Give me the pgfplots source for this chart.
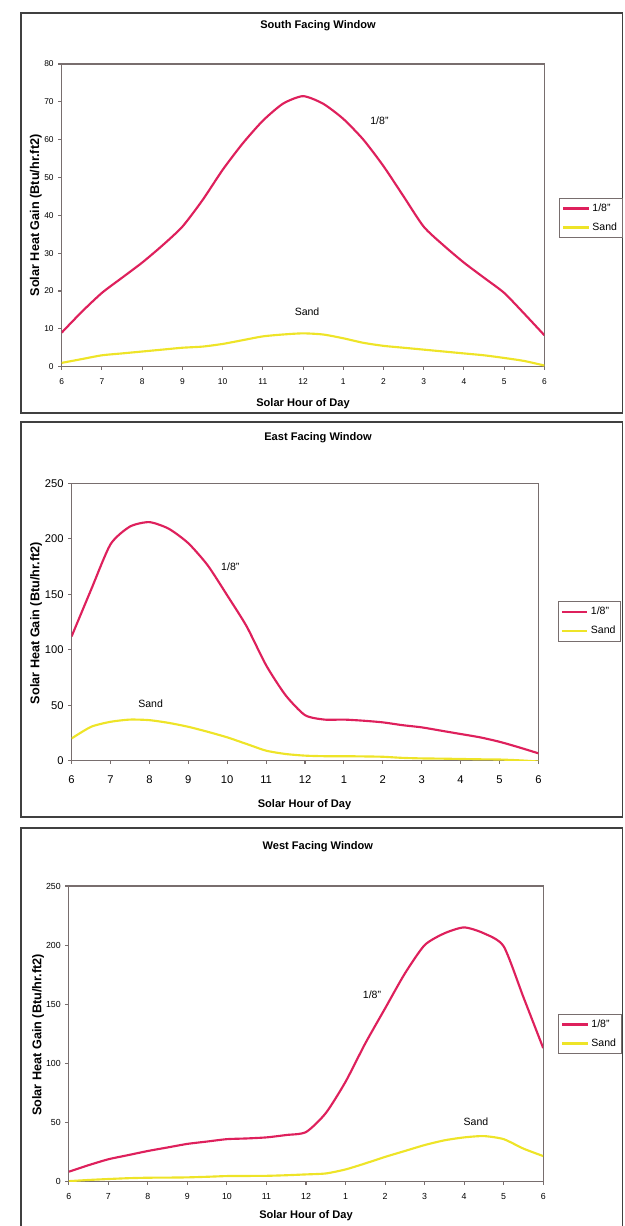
\documentclass[border=0pt]{standalone}
\usepackage{pgfplots}
\pgfplotsset{compat=1.18}
\usepackage{fontspec}
\setmainfont{Liberation Sans}

\definecolor{redline}{RGB}{222,32,92}
\definecolor{yelline}{RGB}{238,228,40}
\definecolor{axgray}{RGB}{120,110,110}

% data: x = hours after 6 am (0..12)
\pgfplotstableread{
x   glass  sand
0    9.0   1.0
0.5 14.5   2.0
1   19.5   3.0
1.5 23.5   3.5
2   27.5   4.0
2.5 32.0   4.5
3   37.0   5.0
3.5 44.0   5.3
4   52.0   6.0
4.5 59.0   7.0
5   65.0   8.0
5.5 69.5   8.5
6   71.5   8.8
6.5 69.5   8.5
7   65.5   7.5
7.5 60.0   6.3
8   53.0   5.5
8.5 45.0   5.0
9   37.0   4.5
9.5 32.0   4.0
10  27.5   3.5
10.5 23.5  3.0
11  19.5   2.3
11.5 14.0  1.5
12   8.3   0.3
}\southdata

\pgfplotstableread{
x   glass  sand
0   112    20
0.5 154    30.5
1   195    35
1.5 211    37
2   215    36.5
2.5 209    34
3   196    30.5
3.5 176    26
4   149    21
4.5 121    15
5    86     9
5.5  59     6
6    41     4.5
6.5  37     4
7    37     4
7.5  36     3.8
8    34.5   3.5
8.5  32     2.5
9    30     2
9.5  27     1.8
10   24     1.5
10.5 21     1.2
11   17     1
11.5 12     0.3
12    6.6  -0.8
}\eastdata

\pgfplotstableread{
x   glass  sand
0     8.5   0.5
0.5  14     1.5
1    19     2.3
1.5  22.5   3.0
2    26     3.4
2.5  29     3.5
3    32     3.7
3.5  34     4.2
4    36     4.8
4.5  36.6   4.9
5    37.5   5.0
5.5  39.5   5.5
6    42     6.2
6.5  58     7.0
7    84.5  10.4
7.5 117    15.5
8   146.5  21
8.5 176    26
9   200    31
9.5 210    35
10  215    37.5
10.5 210   38.6
11  199    36
11.5 156   28
12  113    21.7
}\westdata

\pgfplotsset{
  panel/.style={
    scale only axis,
    anchor=north west,
    xmin=0, xmax=12,
    xtick={0,1,...,12},
    xticklabels={6,7,8,9,10,11,12,1,2,3,4,5,6},
    ymin=0,
    xtick pos=bottom, ytick pos=left,
    axis line style={axgray, line width=0.9pt},
    tick style={axgray, line width=0.8pt},
    tick align=outside,
    major tick length=2.5pt,
    /pgf/number format/assume math mode=true,
    title style={font=\fontsize{8.3}{9}\selectfont\bfseries, anchor=center},
    xlabel style={font=\fontsize{8.3}{9}\selectfont\bfseries, anchor=center},
    ylabel style={font=\fontsize{9.5}{10}\selectfont\bfseries, anchor=center},
    legend cell align=left,
    legend style={draw=axgray, line width=0.8pt, font=\fontsize{7.9}{9}\selectfont,
      inner xsep=2pt, inner ysep=2pt, row sep=3pt, anchor=center},
    legend image code/.code={\draw[#1, line width=1.6pt] (0pt,0pt) -- (19pt,0pt);},
    every axis plot/.append style={line width=1.6pt, smooth, tension=0.4},
  },
}

\begin{document}
\begin{tikzpicture}
\path[use as bounding box] (0,0) rectangle (624*0.75pt,-1226*0.75pt);
\draw[black!75, line width=1.3pt] (21*0.75pt,-13*0.75pt) rectangle (622.5*0.75pt,-413*0.75pt);
\draw[black!75, line width=1.3pt] (21*0.75pt,-422*0.75pt) rectangle (622.5*0.75pt,-817*0.75pt);
\draw[black!75, line width=1.3pt] (21*0.75pt,-828*0.75pt) rectangle (622.5*0.75pt,-1232*0.75pt);

% South
\begin{axis}[panel,
  at={(61.7*0.75pt,-64*0.75pt)},
  width=362pt, height=227pt,
  ymax=80, ytick={0,10,...,80},
  ticklabel style={font=\fontsize{6.3}{7}\selectfont},
  xticklabel style={yshift=-3pt},
  title={South Facing Window},
  title style={at={(0.531,1)}, yshift=22.5pt},
  xlabel={Solar Hour of Day},
  xlabel style={at={(0.5,0)}, yshift=-28pt},
  ylabel={Solar Heat Gain (Btu/hr.ft2)},
  ylabel style={at={(0,0.5)}, yshift=19.3pt},
  legend style={at={(1.0966,0.491)}},
]
\addplot[redline] table[x=x,y=glass] {\southdata};
\addplot[yelline] table[x=x,y=sand] {\southdata};
\legend{1/8",Sand}
\node[font=\fontsize{7.9}{9}\selectfont] at (axis cs:7.9,65) {1/8"};
\node[font=\fontsize{7.9}{9}\selectfont] at (axis cs:6.1,14.5) {Sand};
\end{axis}

% East
\begin{axis}[panel,
  at={(71.6*0.75pt,-483.3*0.75pt)},
  width=350.1pt, height=208pt,
  ymax=250, ytick={0,50,...,250},
  ticklabel style={font=\fontsize{8.4}{9}\selectfont},
  xticklabel style={yshift=-5pt},
  title={East Facing Window},
  title style={at={(0.528,1)}, yshift=28pt},
  xlabel={Solar Hour of Day},
  xlabel style={at={(0.499,0)}, yshift=-33.2pt},
  ylabel={Solar Heat Gain (Btu/hr.ft2)},
  ylabel style={at={(0,0.496)}, yshift=26.7pt},
  legend style={at={(1.1095,0.502)}},
]
\addplot[redline] table[x=x,y=glass] {\eastdata};
\addplot[yelline] table[x=x,y=sand] {\eastdata};
\legend{1/8",Sand}
\node[font=\fontsize{7.9}{9}\selectfont] at (axis cs:4.08,175) {1/8"};
\node[font=\fontsize{7.9}{9}\selectfont] at (axis cs:2.03,51) {Sand};
\end{axis}

% West
\begin{axis}[panel,
  at={(68.8*0.75pt,-886*0.75pt)},
  width=355.8pt, height=221.8pt,
  ymax=250, ytick={0,50,...,250},
  ticklabel style={font=\fontsize{6.6}{7}\selectfont},
  xticklabel style={yshift=-2.5pt},
  title={West Facing Window},
  title style={at={(0.525,1)}, yshift=23.2pt},
  xlabel={Solar Hour of Day},
  xlabel style={at={(0.5,0)}, yshift=-25.7pt},
  ylabel={Solar Heat Gain (Btu/hr.ft2)},
  ylabel style={at={(0,0.496)}, yshift=23pt},
  legend style={at={(1.0987,0.4995)}},
]
\addplot[redline] table[x=x,y=glass] {\westdata};
\addplot[yelline] table[x=x,y=sand] {\westdata};
\legend{1/8",Sand}
\node[font=\fontsize{7.9}{9}\selectfont] at (axis cs:7.67,158) {1/8"};
\node[font=\fontsize{7.9}{9}\selectfont] at (axis cs:10.3,51) {Sand};
\end{axis}
\end{tikzpicture}
\end{document}
